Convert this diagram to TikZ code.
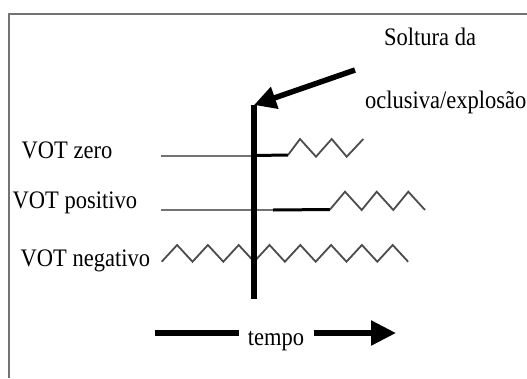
\documentclass[tikz,border=0pt]{standalone}
\usepackage{fontspec}
\setmainfont{Liberation Serif}
\usetikzlibrary{arrows.meta}
\newcommand{\tallt}[1]{\scalebox{1}[1.12]{#1}}
\begin{document}
\begin{tikzpicture}[x=1pt,y=-1pt,
  lbl/.style={inner sep=0pt,anchor=base west,font=\fontsize{22.5}{26}\selectfont,text=black},
  frameline/.style={draw=black!55,line width=2pt},
  thinline/.style={draw=black!55,line width=2pt},
  thickline/.style={draw=black,line width=3pt},
  bar/.style={draw=black,line width=5.5pt},
  zig/.style={draw=black!70,line width=1.8pt,line join=miter},
  bigarrow/.style={draw=black,line width=5.5pt,-{Triangle[length=22pt,width=22pt]}}]
\useasboundingbox (0,0) rectangle (527,378);
\fill[white] (0,0) rectangle (527,378);
% frame
\coordinate (fbl) at (9,378);
\coordinate (ftl) at (9,14);
\coordinate (ftr) at (527,14);
\draw[frameline] (fbl) -- (ftl) -- (ftr);
% labels
\node[lbl] (soltura) at (384,45) {\tallt{Soltura da}};
\node[lbl] (oclusiva) at (365,108.3) {\tallt{oclusiva/explosão}};
\node[lbl] (zero) at (21.5,158.3) {\tallt{VOT zero}};
\node[lbl] (positivo) at (12.5,208.3) {\tallt{VOT positivo}};
\node[lbl] (negativo) at (20.5,266.7) {\tallt{VOT negativo}};
% VOT zero
\coordinate (z0) at (160.7,155.5);
\coordinate (z1) at (254,155.5);
\coordinate (z2) at (288,155);
\draw[thinline] (z0) -- (z1);
\draw[thickline] (z1) -- (z2);
\draw[zig] (z2) -- (300,139) -- (316,156.7) -- (331.7,139) -- (346.7,156.7) -- (363.3,139);
% VOT positivo
\coordinate (p0) at (160.7,210);
\coordinate (p1) at (273,210);
\coordinate (p2) at (330,209.5);
\draw[thinline] (p0) -- (p1);
\draw[thickline] (p1) -- (p2);
\draw[zig] (p2) -- (345,191.7) -- (361.7,210) -- (376.7,191.7) -- (393.3,210) -- (408.3,191.7) -- (425,210);
% VOT negativo
\coordinate (n0) at (161.7,261.7);
\draw[zig] (n0) \foreach \i in {1,...,16} { -- ({161.7+15.4*\i},{261.7-16.7*mod(\i,2)}) };
% vertical bar
\coordinate (vtop) at (254,105);
\coordinate (vbot) at (254,299);
\draw[bar] (vbot) -- (vtop);
% release arrow
\coordinate (astart) at (355,70);
\draw[bigarrow] (astart) -- (vtop);
% tempo
\node[lbl,anchor=base] (tempo) at (276,345) {\tallt{tempo}};
\coordinate (tl) at (155,333);
\coordinate (tr) at (238.5,333);
\coordinate (al) at (313.5,333);
\coordinate (ar) at (396,333);
\draw[bar] (tl) -- (tr);
\draw[bigarrow,-{Triangle[length=25pt,width=24pt]}] (al) -- (ar);
\end{tikzpicture}
\end{document}
